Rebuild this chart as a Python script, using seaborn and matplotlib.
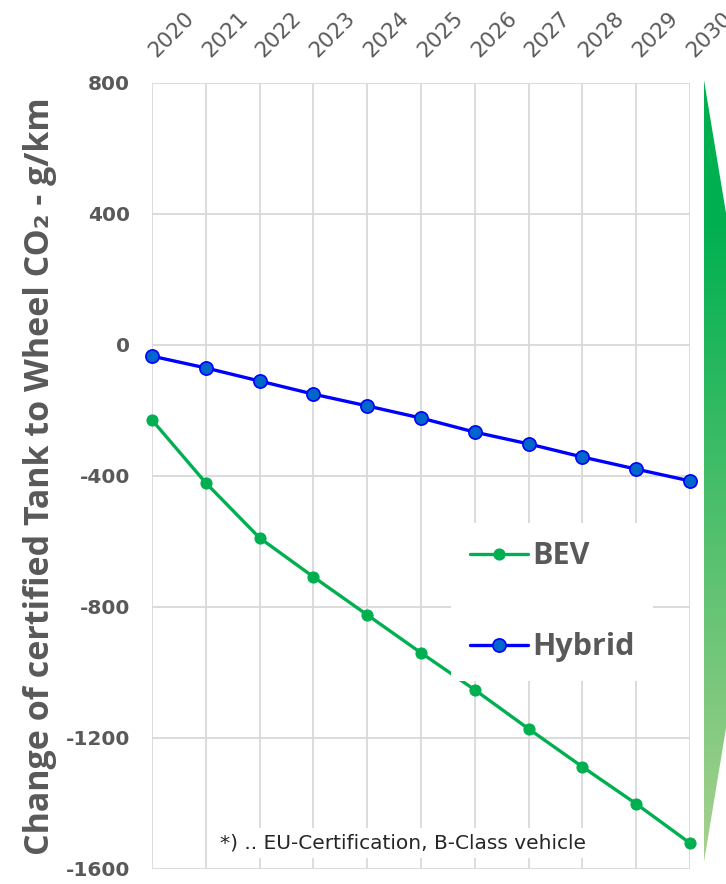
import numpy as np
import pandas as pd
import matplotlib
matplotlib.use('Agg')
import matplotlib.pyplot as plt
from matplotlib.colors import LinearSegmentedColormap
from matplotlib.patches import Polygon
import seaborn as sns

# =========================
# DATA
# =========================
years = [2020, 2021, 2022, 2023, 2024, 2025, 2026, 2027, 2028, 2029, 2030]
bev = [-229, -421, -589, -708, -824, -940, -1053, -1172, -1288, -1401, -1521]
hybrid = [-34, -70, -110, -150, -186, -223, -266, -302, -342, -379, -415]
y_ticks = [800, 400, 0, -400, -800, -1200, -1600]

ylabel = 'Change of certified Tank to Wheel CO\u2082 - g/km'
footnote = '*) .. EU-Certification, B-Class vehicle'

df = pd.DataFrame({'year': years, 'BEV': bev, 'Hybrid': hybrid})

GRAY = '#595959'
GREEN = '#00B050'

sns.set_style('whitegrid')
plt.rcParams['font.family'] = ['DejaVu Sans']
plt.rcParams['axes.unicode_minus'] = False

fig = plt.figure(figsize=(7.26, 8.84), dpi=100)
W, H = 726, 884
ax = fig.add_axes([152 / W, 1 - 869 / H, (690 - 152) / W, (869 - 83) / H])

sns.lineplot(data=df, x='year', y='BEV', ax=ax, color=GREEN, lw=2.4,
             marker='o', markersize=8, markerfacecolor=GREEN,
             markeredgecolor=GREEN, label='BEV', clip_on=False)
sns.lineplot(data=df, x='year', y='Hybrid', ax=ax, color='#0000FF', lw=2.4,
             marker='o', markersize=9.5, markerfacecolor='#0066CC',
             markeredgecolor='#0000FF', markeredgewidth=1.2, label='Hybrid',
             clip_on=False)

ax.set_xlim(2020, 2030)
ax.set_ylim(-1600, 800)
ax.set_xticks(years)
ax.set_yticks(y_ticks)
ax.xaxis.tick_top()
ax.grid(True, color='#D9D9D9', lw=1.3)
for s in ax.spines.values():
    s.set_visible(False)

ax.tick_params(axis='x', length=0, pad=21, labelsize=15.5, labelcolor=GRAY)
ax.tick_params(axis='y', length=0, pad=16, labelsize=14.5, labelcolor=GRAY)
for lab in ax.get_xticklabels():
    lab.set_rotation(45)
    lab.set_rotation_mode('anchor')
    lab.set_ha('left')
    lab.set_va('center')
for lab in ax.get_yticklabels():
    lab.set_fontweight('bold')

ax.set_xlabel('')
ax.set_ylabel(ylabel, fontsize=24.5, fontweight='bold', color=GRAY,
              family=['Open Sans', 'DejaVu Sans'], labelpad=6)

leg = ax.legend(loc='center', bbox_to_anchor=(0.744, 0.340), frameon=True,
                fontsize=22, handlelength=1.9, handletextpad=0.15,
                labelspacing=2.0, borderpad=0.6, fancybox=False)
leg.get_frame().set_facecolor('white')
leg.get_frame().set_edgecolor('none')
leg.get_frame().set_alpha(1)
for t in leg.get_texts():
    t.set_color(GRAY)
    t.set_fontweight('bold')
    t.set_family(['Open Sans', 'DejaVu Sans'])

ax.text(0.467, 0.033, footnote, transform=ax.transAxes, ha='center',
        va='center', fontsize=14.5, color='#262626',
        bbox=dict(facecolor='white', edgecolor='none', pad=4))

# green gradient arrow at the right edge
ov = fig.add_axes([0, 0, 1, 1], zorder=-1)
ov.axis('off')
cmap = LinearSegmentedColormap.from_list(
    'g', [(0, GREEN), (0.18, GREEN), (1, '#A9D18E')])
grad = np.linspace(0, 1, 256).reshape(-1, 1)
img = ov.imshow(grad, cmap=cmap, aspect='auto', extent=[700, W, 862, 80])
poly = Polygon([(704, 80), (726, 213), (726, 728), (704, 862)],
               closed=True, facecolor='none', edgecolor='none')
ov.add_patch(poly)
img.set_clip_path(poly)
ov.set_xlim(0, W)
ov.set_ylim(H, 0)

fig.savefig('out.png', dpi=100)
